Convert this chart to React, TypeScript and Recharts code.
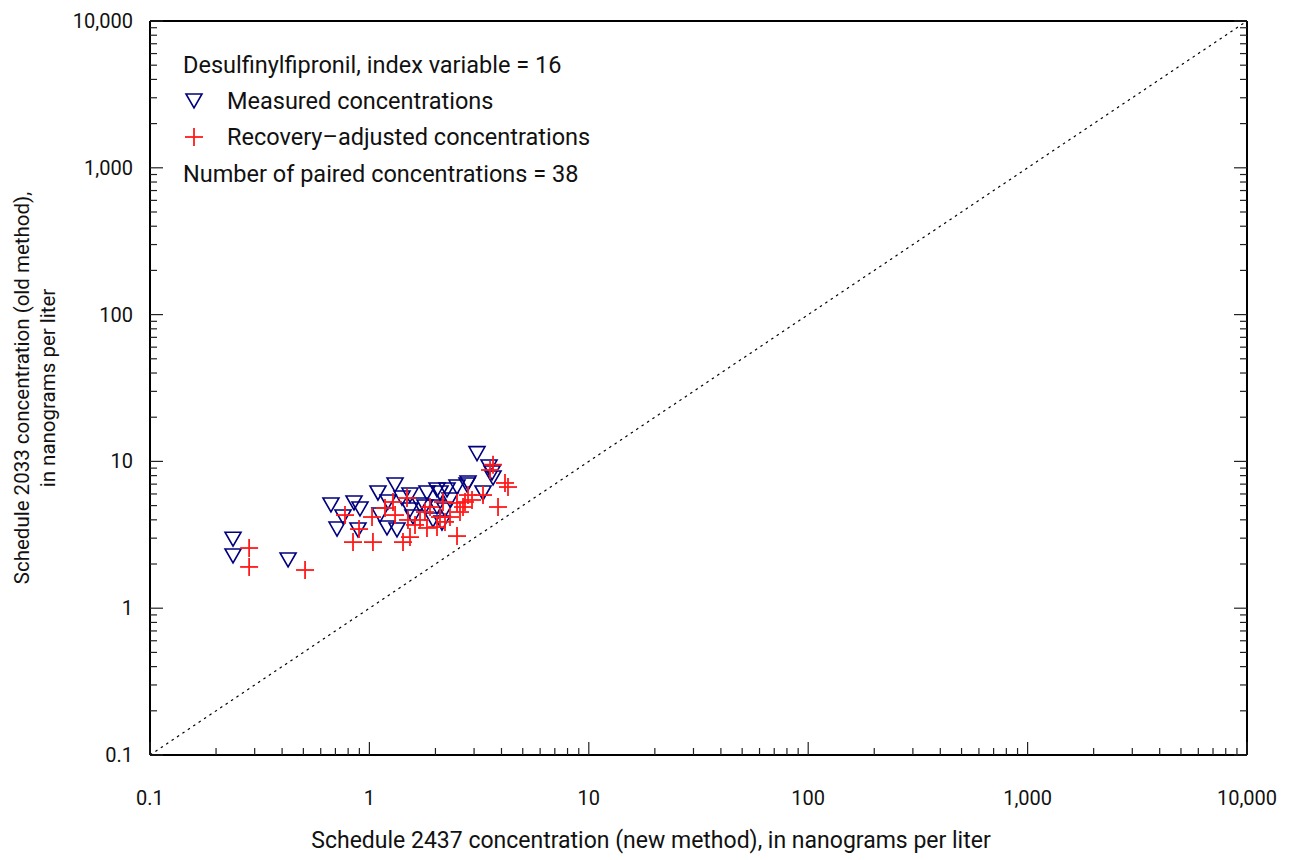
import React from 'react';
import { ScatterChart, Scatter, XAxis, YAxis, ReferenceLine } from 'recharts';

// Schedule 2437 (new method) vs schedule 2033 (old method), ng/L
const measuredX = [
  0.239, 0.239, 0.426, 0.668, 0.712, 0.758, 0.851, 0.906, 0.887, 1.094,
  1.309, 1.216, 1.203, 1.336, 1.531, 1.58, 1.83, 2.098, 1.949, 2.211,
  2.033, 2.258, 2.508, 2.785, 2.033, 2.142, 3.094, 3.51, 3.622, 3.66,
  2.815, 3.295, 1.531, 1.408, 1.701, 2.33, 1.118, 1.792,
];
const measuredY = [
  2.95, 2.27, 2.13, 5.05, 3.46, 4.18, 5.21, 4.74, 3.41, 6.09,
  6.91, 5.29, 3.52, 3.41, 4.67, 4.18, 6.09, 6.09, 3.99, 4.67,
  6.39, 6.39, 6.69, 6.91, 4.89, 3.8, 11.3, 9.16, 8.34, 7.71,
  7.13, 6.09, 5.9, 5.63, 5.05, 5.46, 4.31, 4.89,
];
const adjustedX = [
  0.283, 0.283, 0.509, 0.774, 0.897, 0.842, 1.038, 1.028, 1.281, 1.484,
  1.499, 1.531, 1.423, 1.889, 1.83, 2.033, 2.165, 2.508, 2.671, 2.936,
  3.295, 2.33, 2.098, 2.508, 1.701, 3.66, 4.15, 4.283, 3.857, 2.727,
  2.588, 1.309, 1.614, 1.178, 2.211, 3.547, 1.792, 2.815,
];
const adjustedY = [
  2.57, 1.91, 1.82, 4.31, 3.46, 2.82, 2.82, 4.18, 5.29, 5.63,
  3.99, 3.05, 2.82, 4.89, 3.52, 3.57, 5.29, 5.21, 4.89, 5.46,
  5.9, 4.18, 4.18, 3.1, 3.99, 9.5, 7.13, 6.69, 4.89, 5.29,
  4.52, 4.31, 3.69, 4.81, 3.87, 8.74, 4.52, 5.9,
];

const decades = [0.1, 1, 10, 100, 1000, 10000];
const decadeLabels = ['0.1', '1', '10', '100', '1,000', '10,000'];
const minorSteps = [2, 3, 4, 5, 6, 7, 8, 9];

const measured = measuredX.map((x, i) => ({ x, y: measuredY[i] }));
const adjusted = adjustedX.map((x, i) => ({ x, y: adjustedY[i] }));
const allTicks = [
  ...decades,
  ...decades.slice(0, -1).flatMap((d) => minorSteps.map((m) => m * d)),
];
const domain: [number, number] = [0.1, 10000];

const FONT = 'Roboto, "Liberation Sans", Arial, sans-serif';
const M = 8; // tickMargin, used to get back the plot edge inside custom ticks
const MAJOR = 13;
const MINOR = 7;

const majorIndex = (v: number) => decades.findIndex((d) => Math.abs(v / d - 1) < 1e-6);

function BottomTick({ x, y, payload }: any) {
  const base = y - M;
  const idx = majorIndex(payload.value);
  return (
    <g>
      <line x1={x} x2={x} y1={base} y2={base - (idx >= 0 ? MAJOR : MINOR)} stroke="#222" strokeWidth={1.2} />
      {idx >= 0 && (
        <text x={x} y={base + 50} textAnchor="middle" fontSize={20} fill="#111" fontFamily={FONT}>
          {decadeLabels[idx]}
        </text>
      )}
    </g>
  );
}

function TopTick({ x, y, payload }: any) {
  const base = y + M;
  const len = majorIndex(payload.value) >= 0 ? MAJOR : MINOR;
  return <line x1={x} x2={x} y1={base} y2={base + len} stroke="#222" strokeWidth={1.2} />;
}

function LeftTick({ x, y, payload }: any) {
  const base = x + M;
  const idx = majorIndex(payload.value);
  return (
    <g>
      <line x1={base} x2={base + (idx >= 0 ? MAJOR : MINOR)} y1={y} y2={y} stroke="#222" strokeWidth={1.2} />
      {idx >= 0 && (
        <text x={base - 17} y={y + 7} textAnchor="end" fontSize={20} fill="#111" fontFamily={FONT}>
          {decadeLabels[idx]}
        </text>
      )}
    </g>
  );
}

function RightTick({ x, y, payload }: any) {
  const base = x - M;
  const len = majorIndex(payload.value) >= 0 ? MAJOR : MINOR;
  return <line x1={base} x2={base - len} y1={y} y2={y} stroke="#222" strokeWidth={1.2} />;
}

function Triangle({ cx, cy }: any) {
  return (
    <polygon
      points={`${cx - 8},${cy - 7} ${cx + 8},${cy - 7} ${cx},${cy + 7}`}
      fill="none"
      stroke="#00007f"
      strokeWidth={1.6}
    />
  );
}

function Plus({ cx, cy }: any) {
  return (
    <g stroke="#ff1a1a" strokeWidth={1.8}>
      <line x1={cx - 9} x2={cx + 9} y1={cy} y2={cy} />
      <line x1={cx} x2={cx} y1={cy - 9} y2={cy + 9} />
    </g>
  );
}

function YTitle() {
  return (
    <text transform="translate(0, 388) rotate(-90)" textAnchor="middle" fontSize={20.5} fill="#111" fontFamily={FONT}>
      <tspan x={0} y={29}>Schedule 2033 concentration (old method),</tspan>
      <tspan x={0} y={55}>in nanograms per liter</tspan>
    </text>
  );
}

function XTitle() {
  return (
    <text x={651} y={848} textAnchor="middle" fontSize={23} fill="#111" fontFamily={FONT}>
      Schedule 2437 concentration (new method), in nanograms per liter
    </text>
  );
}

function KeyBox() {
  const row: React.CSSProperties = { position: 'absolute', left: 0, whiteSpace: 'nowrap' };
  return (
    <div style={{ position: 'absolute', left: 183, top: 50, fontFamily: FONT, fontSize: 23.5, color: '#111', lineHeight: '30px' }}>
      <div style={{ ...row, top: 0 }}>Desulfinylfipronil, index variable = 16</div>
      <div style={{ ...row, top: 36 }}>
        <svg width={20} height={20} style={{ position: 'absolute', left: 1, top: 5 }}>
          <polygon points="2,3 18,3 10,17" fill="none" stroke="#00007f" strokeWidth={1.6} />
        </svg>
        <span style={{ marginLeft: 44 }}>Measured concentrations</span>
      </div>
      <div style={{ ...row, top: 72 }}>
        <svg width={22} height={22} style={{ position: 'absolute', left: 0, top: 4 }}>
          <line x1={2} x2={20} y1={11} y2={11} stroke="#ff1a1a" strokeWidth={1.8} />
          <line x1={11} x2={11} y1={2} y2={20} stroke="#ff1a1a" strokeWidth={1.8} />
        </svg>
        <span style={{ marginLeft: 44 }}>Recovery–adjusted concentrations</span>
      </div>
      <div style={{ ...row, top: 109 }}>Number of paired concentrations = 38</div>
    </div>
  );
}

export default function App() {
  return (
    <div style={{ position: 'absolute', left: 0, top: 0, width: 1292, height: 860, background: '#fff' }}>
      <ScatterChart
        width={1292}
        height={860}
        margin={{ top: 20, right: 44, bottom: 75, left: 90 }}
        style={{ fontFamily: FONT }}
      >
        <XAxis
          type="number"
          dataKey="x"
          scale="log"
          domain={domain}
          ticks={allTicks}
          interval={0}
          allowDataOverflow
          height={30}
          tickSize={0}
          tickMargin={M}
          tick={<BottomTick />}
          axisLine={{ stroke: '#000', strokeWidth: 2 }}
          tickLine={false}
          label={<XTitle />}
        />
        <XAxis
          xAxisId="top"
          orientation="top"
          type="number"
          scale="log"
          domain={domain}
          ticks={allTicks}
          interval={0}
          allowDataOverflow
          height={1}
          tickSize={0}
          tickMargin={M}
          tick={<TopTick />}
          axisLine={{ stroke: '#000', strokeWidth: 2 }}
          tickLine={false}
        />
        <YAxis
          type="number"
          dataKey="y"
          scale="log"
          domain={domain}
          ticks={allTicks}
          interval={0}
          allowDataOverflow
          width={60}
          tickSize={0}
          tickMargin={M}
          tick={<LeftTick />}
          axisLine={{ stroke: '#000', strokeWidth: 2 }}
          tickLine={false}
          label={<YTitle />}
        />
        <YAxis
          yAxisId="right"
          orientation="right"
          type="number"
          scale="log"
          domain={domain}
          ticks={allTicks}
          interval={0}
          allowDataOverflow
          width={1}
          tickSize={0}
          tickMargin={M}
          tick={<RightTick />}
          axisLine={{ stroke: '#000', strokeWidth: 2 }}
          tickLine={false}
        />
        <ReferenceLine
          segment={[{ x: 0.1, y: 0.1 }, { x: 10000, y: 10000 }]}
          stroke="#000"
          strokeWidth={1.2}
          strokeDasharray="2.5 4"
          ifOverflow="hidden"
        />
        <Scatter name="Measured concentrations" data={measured} shape={<Triangle />} isAnimationActive={false} />
        <Scatter name="Recovery-adjusted concentrations" data={adjusted} shape={<Plus />} isAnimationActive={false} />
      </ScatterChart>
      <KeyBox />
    </div>
  );
}
